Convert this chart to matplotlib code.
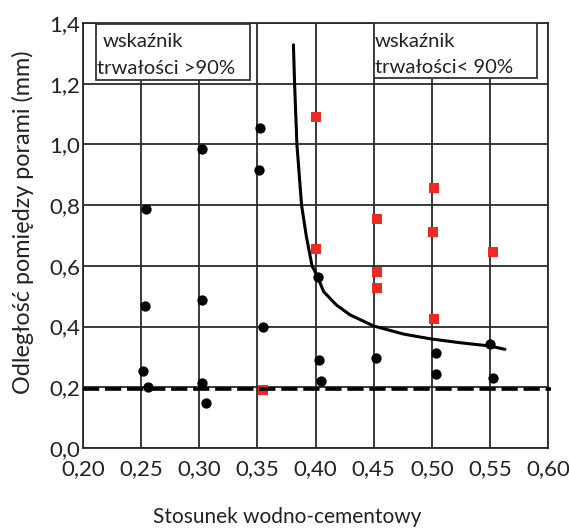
import numpy as np
import matplotlib
matplotlib.use("Agg")
import matplotlib.pyplot as plt
from matplotlib.patches import Rectangle

plt.rcParams['font.family'] = ['Lato', 'DejaVu Sans']

# black circles - durability index > 90%
bx = [0.254, 0.302, 0.352, 0.351, 0.253, 0.302, 0.355, 0.252, 0.256, 0.302, 0.306,
      0.402, 0.403, 0.405, 0.452, 0.504, 0.504, 0.550, 0.553]
by = [0.787, 0.985, 1.055, 0.916, 0.468, 0.488, 0.400, 0.254, 0.200, 0.215, 0.147,
      0.562, 0.290, 0.220, 0.295, 0.314, 0.243, 0.343, 0.232]

# red squares - durability index < 90%
rx = [0.400, 0.502, 0.453, 0.501, 0.400, 0.553, 0.453, 0.453, 0.502, 0.355]
ry = [1.090, 0.855, 0.755, 0.710, 0.656, 0.646, 0.580, 0.527, 0.424, 0.191]

# boundary curve
cx = [0.381, 0.382, 0.384, 0.388, 0.392, 0.397, 0.402, 0.407, 0.418, 0.430, 0.450,
      0.476, 0.500, 0.524, 0.550, 0.563]
cy = [1.328, 1.200, 1.000, 0.800, 0.700, 0.600, 0.562, 0.515, 0.471, 0.438, 0.402,
      0.375, 0.359, 0.347, 0.336, 0.325]

limit_y = 0.195

xticks = [0.20, 0.25, 0.30, 0.35, 0.40, 0.45, 0.50, 0.55, 0.60]
yticks = [0.0, 0.2, 0.4, 0.6, 0.8, 1.0, 1.2, 1.4]

fig = plt.figure(figsize=(5.69, 5.29), dpi=100)
ax = fig.add_axes([0.1459, 0.1531, 0.8172, 0.8034])

ax.set_xlim(0.20, 0.60)
ax.set_ylim(0.0, 1.4)
ax.set_xticks(xticks)
ax.set_yticks(yticks)
ax.set_xticklabels([('%.2f' % v).replace('.', ',') for v in xticks])
ax.set_yticklabels([('%.1f' % v).replace('.', ',') for v in yticks])
ax.tick_params(length=0, labelsize=16, colors='#222222')
ax.tick_params(axis='x', pad=8)
ax.tick_params(axis='y', pad=2)
ax.grid(True, color='#2a2a2a', linewidth=1.3)
ax.set_axisbelow(True)
for s in ax.spines.values():
    s.set_color('#2a2a2a')
    s.set_linewidth(1.3)

ax.plot(cx, cy, color='black', linewidth=2.2, zorder=3, solid_capstyle='round')

ax.scatter(bx, by, s=55, color='black', marker='o', zorder=4, linewidths=0)
ax.scatter(rx, ry, s=48, color='#ee2a22', marker='s', zorder=4, linewidths=0)

ax.plot([0.20, 0.603], [limit_y, limit_y], color='black', linewidth=2.6,
        dashes=(4.5, 1.6), zorder=4.5, clip_on=False)

# text boxes
ax.add_patch(Rectangle((0.2115, 1.212), 0.1325, 0.184, facecolor='white',
                       edgecolor='#333333', linewidth=1.3, zorder=5))
ax.add_patch(Rectangle((0.4505, 1.218), 0.140, 0.181, facecolor='white',
                       edgecolor='#333333', linewidth=1.3, zorder=5))
box_kw = dict(fontsize=14.6, color='#222222', va='baseline', ha='left', zorder=6)
ax.text(0.2170, 1.322, 'wskaźnik', **box_kw)
ax.text(0.2123, 1.232, 'trwałości >90%', **box_kw)
ax.text(0.4512, 1.322, 'wskaźnik', **box_kw)
ax.text(0.4512, 1.234, 'trwałości< 90%', **box_kw)

fig.text(0.040, 0.58, 'Odległość pomiędzy porami (mm)', rotation=90, fontsize=16.8,
         ha='center', va='center', color='#222222')
fig.text(0.504, 0.023, 'Stosunek wodno-cementowy', fontsize=15,
         ha='center', va='center', color='#222222')

fig.savefig('out.png', dpi=100)
